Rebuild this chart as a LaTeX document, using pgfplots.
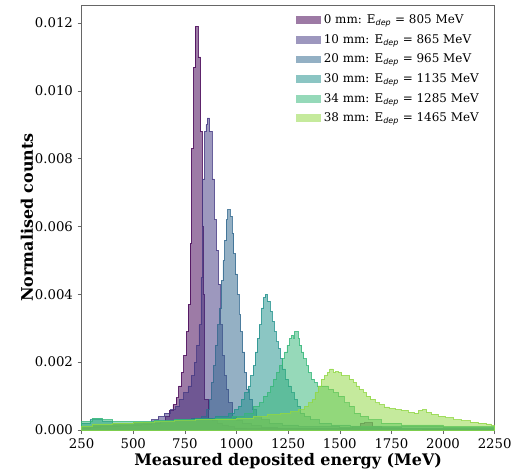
\documentclass[border=0pt]{standalone}
\usepackage{pgfplots}
\pgfplotsset{compat=1.18}
\usepackage{fontspec}
\setmainfont{DejaVu Serif}
\newfontfamily\dvs{DejaVu Sans}
\definecolor{c0}{HTML}{440154}
\definecolor{c1}{HTML}{443983}
\definecolor{c2}{HTML}{31688E}
\definecolor{c3}{HTML}{21918C}
\definecolor{c4}{HTML}{35B779}
\definecolor{c5}{HTML}{90D743}
\newcommand{\edep}{E\textsubscript{\dvs\itshape dep}}
\pgfplotsset{
  hist/.style={const plot mark left, fill=#1, fill opacity=0.52, draw=#1, draw opacity=0.8, line width=0.55pt},
}
\begin{document}
\begin{tikzpicture}
\begin{axis}[
  scale only axis,
  width=311pt, height=320pt,
  xmin=250, xmax=2250, ymin=0, ymax=0.01253,
  xtick={250,500,...,2250},
  ytick={0,0.002,0.004,0.006,0.008,0.010,0.012},
  scaled y ticks=false,
  y tick label style={/pgf/number format/.cd, fixed, fixed zerofill, precision=3},
  x tick label style={/pgf/number format/.cd, set thousands separator={}},
  /pgf/number format/assume math mode=true,
  tick label style={font=\fontsize{10}{12}\selectfont},
  xtick pos=bottom, ytick pos=left, tick align=outside,
  major tick length=3pt,
  axis line style={draw=black!60},
  every tick/.style={black!60},
  clip=false,
  xlabel={Measured deposited energy (MeV)},
  ylabel={Normalised counts},
  label style={font=\bfseries\fontsize{12}{14}\selectfont},
  xlabel style={at={(rel axis cs:0.5,-0.0726)}, anchor=center},
  ylabel style={at={(rel axis cs:-0.1325,0.5)}, anchor=center, rotate=0},
  legend style={at={(rel axis cs:0.975,0.99)}, anchor=north east, draw=none, fill=white,
    font=\fontsize{9}{10.5}\selectfont, row sep=2.6pt, inner sep=2pt},
  legend cell align=left,
  legend image code/.code={\fill[#1, draw=none] (0pt,-3pt) rectangle (19pt,3pt);},
]
\path (rel axis cs:-0.1976,-0.0984) rectangle (rel axis cs:1.0458,1.0117);

\addplot[hist=c0] coordinates {
(250,0.00005)(290,0.00008)(340,0.00010)(390,0.00012)(440,0.00013)(490,0.00015)(540,0.00017)(590,0.00020)
(630,0.00026)(655,0.00040)(675,0.00058)(692,0.00075)(707,0.00095)(720,0.0013)(733,0.0017)(745,0.0022)
(757,0.0029)(766,0.0037)(775,0.0055)(782,0.0083)(791,0.0107)(800,0.0119)(814,0.0110)(826,0.0088)
(834,0.0060)(840,0.0040)(846,0.0009)(866,0.00035)(885,0.00028)(905,0.0002)(930,0.00015)(960,0.0001)
(990,0.00006)(1050,0.00004)(1300,0.00004)(1500,0.00005)(1560,0.00010)(1600,0.00020)(1620,0.00022)
(1660,0.00010)(1700,0.00005)(1900,0.00003)(2250,0.00003)
} \closedcycle;
\addlegendentry{0 mm: \edep{} = 805 MeV}

\addplot[hist=c1] coordinates {
(250,0.00008)(300,0.00012)(350,0.00012)(400,0.00013)(450,0.00014)(500,0.00017)(550,0.00022)(590,0.0003)
(620,0.0004)(650,0.0005)(680,0.0006)(705,0.0007)(725,0.0009)(745,0.0011)(765,0.0013)(780,0.0016)
(795,0.0020)(808,0.0025)(818,0.0031)(828,0.0045)(836,0.0074)(844,0.0088)(852,0.0090)(858,0.0092)
(870,0.0088)(881,0.0074)(893,0.0062)(903,0.0053)(912,0.0043)(920,0.0031)(930,0.0022)(940,0.0016)
(950,0.0012)(962,0.0008)(980,0.0004)(1000,0.00028)(1030,0.0002)(1070,0.00013)(1120,0.00009)
(1200,0.00006)(1400,0.00005)(1700,0.00004)(2250,0.00004)
} \closedcycle;
\addlegendentry{10 mm: \edep{} = 865 MeV}

\addplot[hist=c2] coordinates {
(250,0.0001)(300,0.00015)(400,0.00016)(500,0.0002)(600,0.00025)(700,0.0003)(780,0.00035)(830,0.0004)
(855,0.0006)(868,0.0009)(878,0.0014)(888,0.0019)(898,0.0025)(908,0.0031)(918,0.0036)(926,0.0044)
(934,0.0050)(942,0.0056)(950,0.0062)(958,0.0065)(968,0.0063)(978,0.0058)(987,0.0052)(996,0.0046)
(1004,0.0040)(1012,0.0034)(1020,0.0029)(1030,0.0023)(1040,0.0017)(1050,0.0012)(1060,0.0009)
(1075,0.0006)(1095,0.0004)(1120,0.0003)(1160,0.0002)(1220,0.00015)(1300,0.0001)(1500,0.00008)
(1800,0.00006)(2250,0.00006)
} \closedcycle;
\addlegendentry{20 mm: \edep{} = 965 MeV}

\addplot[hist=c3] coordinates {
(250,0.0002)(290,0.0003)(350,0.00025)(400,0.0002)(500,0.00022)(600,0.00025)(700,0.0003)(800,0.00035)
(900,0.0004)(960,0.0005)(990,0.0006)(1010,0.0007)(1025,0.0009)(1040,0.0011)(1055,0.0013)(1068,0.0016)
(1080,0.0019)(1090,0.0023)(1100,0.0027)(1110,0.0031)(1120,0.0036)(1130,0.0039)(1138,0.0040)
(1150,0.0038)(1162,0.0035)(1172,0.0032)(1182,0.0029)(1192,0.0026)(1202,0.0024)(1212,0.0021)
(1224,0.0018)(1236,0.0015)(1250,0.0013)(1265,0.0011)(1280,0.0009)(1295,0.0007)(1310,0.0005)
(1330,0.0004)(1360,0.0003)(1400,0.0002)(1460,0.00015)(1550,0.00012)(1700,0.0001)(2000,0.00008)
(2250,0.00008)
} \closedcycle;
\addlegendentry{30 mm: \edep{} = 1135 MeV}

\addplot[hist=c4] coordinates {
(250,0.00025)(300,0.00035)(350,0.0003)(400,0.00025)(500,0.00025)(600,0.00028)(700,0.0003)(800,0.00032)
(900,0.00035)(980,0.0004)(1040,0.0005)(1080,0.0007)(1110,0.0008)(1130,0.0010)(1150,0.0011)(1165,0.0013)
(1180,0.0015)(1195,0.0017)(1208,0.0019)(1220,0.0021)(1232,0.0023)(1244,0.0025)(1256,0.0027)
(1266,0.0028)(1274,0.0027)(1280,0.0029)(1290,0.0029)(1298,0.0027)(1306,0.0025)(1316,0.0023)
(1326,0.0021)(1338,0.0019)(1350,0.0017)(1362,0.0015)(1376,0.0014)(1390,0.0013)(1420,0.0013)
(1445,0.0012)(1470,0.0011)(1495,0.0010)(1520,0.0008)(1545,0.0007)(1570,0.0005)(1600,0.0004)
(1640,0.0003)(1700,0.0002)(1800,0.00015)(2000,0.0001)(2250,0.0001)
} \closedcycle;
\addlegendentry{34 mm: \edep{} = 1285 MeV}

\addplot[hist=c5] coordinates {
(250,0.00012)(300,0.00018)(400,0.0002)(500,0.00022)(600,0.00025)(700,0.00027)(800,0.0003)(900,0.00032)
(1000,0.00035)(1080,0.0004)(1150,0.00045)(1210,0.0005)(1260,0.00055)(1300,0.0006)(1330,0.0007)
(1350,0.0008)(1365,0.0009)(1380,0.0011)(1395,0.0013)(1410,0.0015)(1425,0.0016)(1440,0.0017)
(1452,0.0018)(1468,0.0017)(1480,0.00172)(1495,0.0017)(1510,0.0016)(1530,0.0016)(1548,0.0015)
(1565,0.0014)(1580,0.0013)(1595,0.0012)(1612,0.0011)(1630,0.0010)(1650,0.0009)(1670,0.0008)
(1690,0.00075)(1715,0.00068)(1740,0.00063)(1770,0.0006)(1800,0.00058)(1830,0.00052)(1860,0.0005)
(1880,0.00058)(1900,0.0006)(1920,0.00052)(1945,0.00046)(1975,0.0004)(2010,0.00036)(2050,0.0003)
(2090,0.00027)(2130,0.00023)(2170,0.0002)(2210,0.00018)(2235,0.00013)(2250,0.00013)
} \closedcycle;
\addlegendentry{38 mm: \edep{} = 1465 MeV}
\end{axis}
\end{tikzpicture}
\end{document}
